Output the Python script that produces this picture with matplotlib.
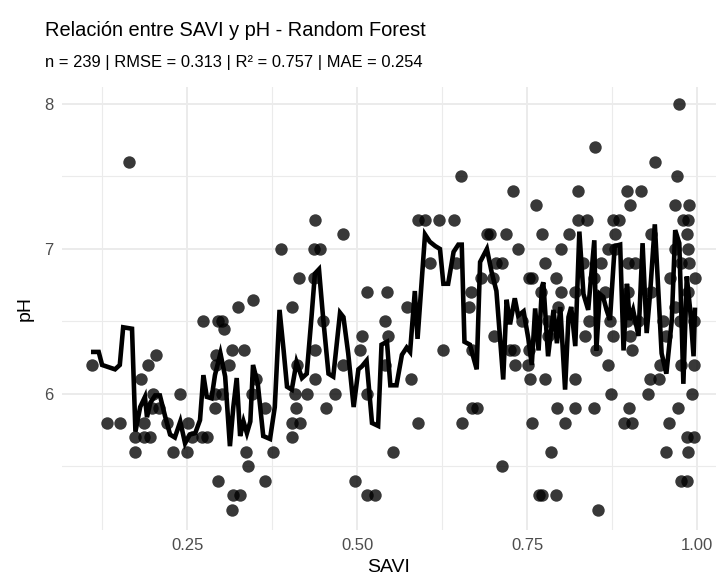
import matplotlib
matplotlib.use("Agg")
import matplotlib.pyplot as plt
from matplotlib.ticker import FixedLocator

# observed samples (SAVI, pH)
savi = [0.165, 0.438, 0.479, 0.388, 0.437, 0.446, 0.415, 0.437, 0.514, 0.404,
        0.325, 0.347, 0.301, 0.653, 0.730, 0.763, 0.589, 0.600, 0.620, 0.643,
        0.691, 0.696, 0.719, 0.772, 0.737, 0.608, 0.646, 0.705, 0.713, 0.682,
        0.700, 0.753, 0.757, 0.544, 0.668, 0.770, 0.574, 0.664, 0.973, 0.850,
        0.939, 0.970, 0.825, 0.897, 0.917, 0.901, 0.967, 0.988, 0.825, 0.838,
        0.877, 0.885, 0.980, 0.987, 0.812, 0.879, 0.933, 0.986, 0.800, 0.869,
        0.879, 0.968, 0.987, 0.776, 0.833, 0.859, 0.898, 0.909, 0.977, 0.988,
        0.792, 0.848, 0.960, 0.997, 0.800, 0.820, 0.865, 0.898, 0.933, 0.987,
        0.796, 0.968, 0.110, 0.205, 0.192, 0.182, 0.200, 0.240, 0.274, 0.296,
        0.292, 0.292, 0.291, 0.132, 0.151, 0.186, 0.220, 0.252, 0.198, 0.208,
        0.174, 0.187, 0.196, 0.257, 0.272, 0.279, 0.173, 0.230, 0.250, 0.296,
        0.305, 0.450, 0.507, 0.316, 0.333, 0.438, 0.504, 0.311, 0.411, 0.480,
        0.352, 0.438, 0.291, 0.301, 0.345, 0.409, 0.426, 0.468, 0.514, 0.365,
        0.410, 0.455, 0.404, 0.416, 0.404, 0.337, 0.377, 0.339, 0.364, 0.497,
        0.318, 0.328, 0.514, 0.526, 0.316, 0.541, 0.545, 0.541, 0.579, 0.627,
        0.669, 0.702, 0.742, 0.725, 0.731, 0.753, 0.732, 0.751, 0.755, 0.669,
        0.676, 0.590, 0.655, 0.757, 0.553, 0.713, 0.767, 0.841, 0.872, 0.950,
        0.975, 0.996, 0.781, 0.835, 0.877, 0.901, 0.955, 0.852, 0.904, 0.869,
        0.946, 0.977, 0.996, 0.776, 0.821, 0.931, 0.944, 0.874, 0.928, 0.992,
        0.794, 0.821, 0.849, 0.900, 0.972, 0.806, 0.893, 0.905, 0.959, 0.985,
        0.996, 0.786, 0.955, 0.987, 0.977, 0.985, 0.772, 0.793, 0.855, 0.781,
        0.897, 0.914]
ph = [7.6, 7.2, 7.1, 7.0, 7.0, 7.0, 6.8, 6.8, 6.7, 6.6,
      6.6, 6.65, 6.5, 7.5, 7.4, 7.3, 7.2, 7.2, 7.2, 7.2,
      7.1, 7.1, 7.1, 7.1, 7.0, 6.9, 6.9, 6.9, 6.9, 6.8,
      6.8, 6.8, 6.8, 6.7, 6.7, 6.7, 6.6, 6.6, 8.0, 7.7,
      7.6, 7.5, 7.4, 7.4, 7.4, 7.3, 7.3, 7.3, 7.2, 7.2,
      7.2, 7.2, 7.2, 7.2, 7.1, 7.1, 7.1, 7.1, 7.0, 7.0,
      7.0, 7.0, 7.0, 6.9, 6.9, 6.9, 6.9, 6.9, 6.9, 6.9,
      6.8, 6.8, 6.8, 6.8, 6.7, 6.7, 6.7, 6.7, 6.7, 6.7,
      6.6, 6.6, 6.2, 6.27, 6.2, 6.1, 6.0, 6.0, 6.5, 6.5,
      6.27, 6.2, 5.9, 5.8, 5.8, 5.8, 5.8, 5.8, 5.9, 5.9,
      5.7, 5.7, 5.7, 5.7, 5.7, 5.7, 5.6, 5.6, 5.6, 5.4,
      6.45, 6.5, 6.4, 6.3, 6.3, 6.3, 6.3, 6.2, 6.2, 6.2,
      6.1, 6.1, 6.0, 6.0, 6.0, 6.0, 6.0, 6.0, 6.0, 5.9,
      5.9, 5.9, 5.8, 5.8, 5.7, 5.6, 5.6, 5.5, 5.4, 5.4,
      5.3, 5.3, 5.3, 5.3, 5.2, 6.5, 6.4, 6.2, 6.1, 6.3,
      6.3, 6.4, 6.5, 6.3, 6.3, 6.3, 6.2, 6.2, 6.1, 5.9,
      5.9, 5.8, 5.8, 5.8, 5.6, 5.5, 5.3, 6.5, 6.5, 6.5,
      6.5, 6.5, 6.4, 6.4, 6.4, 6.4, 6.4, 6.3, 6.3, 6.2,
      6.2, 6.2, 6.2, 6.1, 6.1, 6.1, 6.1, 6.0, 6.0, 6.0,
      5.9, 5.9, 5.9, 5.9, 5.9, 5.8, 5.8, 5.8, 5.8, 5.7,
      5.7, 5.6, 5.6, 5.6, 5.4, 5.4, 5.3, 5.3, 5.2, 6.5,
      6.5, 6.5]

# random forest fit, ordered by SAVI
line_savi = [0.112, 0.120, 0.125, 0.144, 0.151, 0.156, 0.169, 0.174, 0.181, 0.188,
             0.191, 0.196, 0.203, 0.210, 0.218, 0.225, 0.232, 0.240, 0.247, 0.254,
             0.262, 0.269, 0.274, 0.279, 0.286, 0.291, 0.299, 0.306, 0.313, 0.318,
             0.323, 0.328, 0.333, 0.338, 0.343, 0.347, 0.354, 0.362, 0.372, 0.379,
             0.386, 0.392, 0.397, 0.404, 0.411, 0.419, 0.426, 0.433, 0.438, 0.444,
             0.450, 0.458, 0.465, 0.475, 0.480, 0.487, 0.495, 0.502, 0.507, 0.514,
             0.522, 0.531, 0.536, 0.544, 0.549, 0.558, 0.566, 0.573, 0.578, 0.585,
             0.589, 0.600, 0.607, 0.615, 0.622, 0.627, 0.634, 0.642, 0.649, 0.654,
             0.658, 0.666, 0.676, 0.681, 0.691, 0.698, 0.705, 0.715, 0.720, 0.725,
             0.732, 0.737, 0.745, 0.752, 0.757, 0.762, 0.767, 0.772, 0.774, 0.781,
             0.789, 0.794, 0.799, 0.806, 0.811, 0.815, 0.821, 0.827, 0.833, 0.840,
             0.849, 0.852, 0.857, 0.862, 0.867, 0.872, 0.879, 0.887, 0.892, 0.897,
             0.901, 0.906, 0.914, 0.920, 0.926, 0.931, 0.938, 0.948, 0.955, 0.963,
             0.968, 0.974, 0.980, 0.985, 0.990, 0.995, 0.997]
line_ph = [6.29, 6.29, 6.20, 6.17, 6.20, 6.46, 6.45, 5.74, 5.91, 5.98,
           5.84, 5.94, 5.99, 5.99, 5.84, 5.72, 5.70, 5.81, 5.66, 5.72,
           5.73, 5.82, 6.13, 5.98, 5.97, 6.13, 6.28, 6.12, 5.64, 5.91,
           6.11, 5.71, 5.81, 5.73, 5.81, 6.20, 6.07, 5.71, 5.69, 5.91,
           6.58, 6.30, 6.05, 6.03, 6.22, 6.11, 6.14, 6.53, 6.83, 6.86,
           6.53, 6.14, 6.12, 6.56, 6.53, 6.28, 5.91, 6.17, 6.19, 6.23,
           5.80, 5.78, 6.34, 6.36, 6.06, 6.06, 6.27, 6.32, 6.29, 6.71,
           6.38, 7.10, 7.05, 7.02, 7.00, 6.76, 6.76, 6.98, 7.03, 7.03,
           6.36, 6.34, 6.17, 6.91, 7.00, 6.84, 6.71, 6.10, 6.65, 6.48,
           6.66, 6.54, 6.57, 6.38, 6.20, 6.59, 6.30, 6.74, 6.77, 6.26,
           6.58, 6.35, 6.60, 6.03, 6.53, 6.60, 6.33, 7.12, 6.69, 6.58,
           7.06, 6.30, 6.69, 6.67, 6.58, 6.51, 7.02, 7.03, 6.30, 6.76,
           6.51, 6.58, 6.40, 7.04, 6.42, 6.69, 7.17, 6.28, 6.14, 6.51,
           7.13, 7.04, 6.07, 6.81, 6.58, 6.26, 6.58]

x_major = [0.25, 0.50, 0.75, 1.00]
x_labels = ["0.25", "0.50", "0.75", "1.00"]
y_major = [6, 7, 8]

plt.rcParams['font.family'] = ['Liberation Sans', 'DejaVu Sans']

fig = plt.figure(figsize=(7.16, 5.82), dpi=100)
ax = fig.add_axes([62 / 716, 52 / 582, 1 - 62 / 716, 443 / 582])

ax.scatter(savi, ph, s=80, color="black", alpha=0.78, linewidths=0, zorder=3)
ax.plot(line_savi, line_ph, color="black", lw=3.3, solid_joinstyle="miter", zorder=4)

ax.set_xlim(0.066, 1.028)
ax.set_ylim(5.062, 8.117)

ax.xaxis.set_major_locator(FixedLocator(x_major))
ax.xaxis.set_minor_locator(FixedLocator([0.125, 0.375, 0.625, 0.875]))
ax.yaxis.set_major_locator(FixedLocator(y_major))
ax.yaxis.set_minor_locator(FixedLocator([5.5, 6.5, 7.5]))
ax.set_xticklabels(x_labels)
ax.set_yticklabels([str(v) for v in y_major])

ax.grid(which="major", color="#EBEBEB", lw=1.4)
ax.grid(which="minor", color="#EBEBEB", lw=0.8)
ax.set_axisbelow(True)
for sp in ax.spines.values():
    sp.set_visible(False)
ax.tick_params(which="both", length=0, labelsize=12, labelcolor="#4D4D4D", pad=6)

ax.set_xlabel("SAVI", fontsize=14, color="black", labelpad=4)
ax.set_ylabel("pH", fontsize=14, color="black", labelpad=8)

fig.text(45 / 716, 1 - 31 / 582, "Relación entre SAVI y pH - Random Forest",
         fontsize=14.4, va="center", ha="left")
fig.text(45 / 716, 1 - 62 / 582, "n = 239 | RMSE = 0.313 | R² = 0.757 | MAE = 0.254",
         fontsize=11.9, va="center", ha="left")

fig.savefig("out.png", dpi=100)
